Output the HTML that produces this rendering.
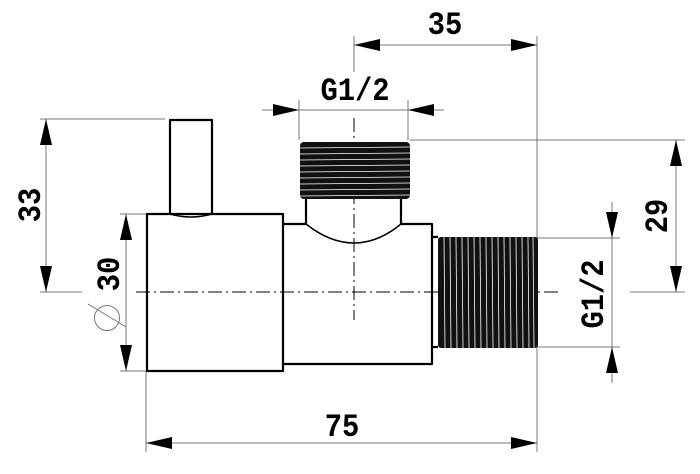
<!DOCTYPE html>
<html><head><style>html,body{margin:0;padding:0;background:#fff}svg{display:block}</style></head>
<body>
<svg width="700" height="474" viewBox="0 0 700 474" xmlns="http://www.w3.org/2000/svg">
<defs>
<clipPath id="ct"><rect x="300" y="142" width="110" height="57" rx="4"/></clipPath>
<clipPath id="cr"><rect x="438" y="237" width="100" height="111" rx="3"/></clipPath>
</defs>
<g stroke="#777" stroke-width="1" fill="none">
<line x1="354" y1="36" x2="354" y2="72"/>
<line x1="537" y1="36" x2="537" y2="452"/>
<line x1="299" y1="100" x2="299" y2="140"/>
<line x1="408" y1="100" x2="408" y2="140"/>
<line x1="40" y1="119" x2="165" y2="119"/>
<line x1="40" y1="292" x2="82" y2="292"/>
<line x1="120" y1="214" x2="146" y2="214"/>
<line x1="120" y1="371" x2="146" y2="371"/>
<line x1="146" y1="371" x2="146" y2="452"/>
<line x1="410" y1="140" x2="685" y2="140"/>
<line x1="630" y1="292" x2="685" y2="292"/>
<line x1="537" y1="238" x2="620" y2="238"/>
<line x1="537" y1="347" x2="620" y2="347"/>
<line x1="354" y1="45" x2="537" y2="45"/>
<line x1="262" y1="110" x2="444" y2="110"/>
<line x1="46" y1="119" x2="46" y2="292"/>
<line x1="126" y1="214" x2="126" y2="371"/>
<line x1="146" y1="443" x2="537" y2="443"/>
<line x1="676" y1="140" x2="676" y2="292"/>
<line x1="612" y1="202" x2="612" y2="383"/>
<circle cx="107" cy="318" r="12.5"/>
<line x1="88" y1="304" x2="126" y2="327"/>
</g>
<g fill="#000">
<polygon points="354,45 380,39 380,51"/><polygon points="537,45 511,39 511,51"/>
<polygon points="299,110 273,104 273,116"/><polygon points="408,110 434,104 434,116"/>
<polygon points="46,119 40,145 52,145"/><polygon points="46,292 40,266 52,266"/>
<polygon points="126,214 120,240 132,240"/><polygon points="126,371 120,345 132,345"/>
<polygon points="146,443 172,437 172,449"/><polygon points="537,443 511,437 511,449"/>
<polygon points="676,140 670,166 682,166"/><polygon points="676,292 670,266 682,266"/>
<polygon points="612,238 606,212 618,212"/><polygon points="612,347 606,373 618,373"/>
</g>
<g stroke="#000" stroke-width="1" stroke-dasharray="14,4,2,4">
<line x1="136" y1="292" x2="562" y2="292"/>
<line x1="354" y1="118" x2="354" y2="320"/>
</g>
<g stroke="#000" stroke-width="2.2" fill="none" stroke-linejoin="round">
<path d="M170,214 L170,120 L212,120 L212,214"/>
<path d="M170,214 Q191,220 212,214" stroke-width="1.5"/>
<rect x="147" y="214" width="136" height="157"/>
<path d="M283,224 L306,224 L306,198 M401,198 L401,224 L432,224 L432,364 L283,364"/>
<path d="M306,224 Q330,243 354,243 Q378,243 401,224" stroke-width="1.5"/>
<path d="M432,237 L438,237 M432,347 L438,347"/>
</g>
<rect x="300" y="142" width="110" height="57" rx="4" fill="#111"/>
<g clip-path="url(#ct)" stroke="#fff" stroke-width="0.8">
<line x1="300" y1="148" x2="410" y2="147"/><line x1="300" y1="154" x2="410" y2="153"/>
<line x1="300" y1="160" x2="410" y2="159"/><line x1="300" y1="166" x2="410" y2="165"/>
<line x1="300" y1="172" x2="410" y2="171"/><line x1="300" y1="178" x2="410" y2="177"/>
<line x1="300" y1="184" x2="410" y2="183"/><line x1="300" y1="190" x2="410" y2="189"/>
<line x1="300" y1="196" x2="410" y2="195"/>
</g>
<rect x="438" y="237" width="100" height="111" rx="3" fill="#111"/>
<g clip-path="url(#cr)" stroke="#fff" stroke-width="0.8">
<line x1="444" y1="237" x2="445" y2="348"/><line x1="450" y1="237" x2="451" y2="348"/>
<line x1="456" y1="237" x2="457" y2="348"/><line x1="462" y1="237" x2="463" y2="348"/>
<line x1="468" y1="237" x2="469" y2="348"/><line x1="474" y1="237" x2="475" y2="348"/>
<line x1="480" y1="237" x2="481" y2="348"/><line x1="486" y1="237" x2="487" y2="348"/>
<line x1="492" y1="237" x2="493" y2="348"/><line x1="498" y1="237" x2="499" y2="348"/>
<line x1="504" y1="237" x2="505" y2="348"/><line x1="510" y1="237" x2="511" y2="348"/>
<line x1="516" y1="237" x2="517" y2="348"/><line x1="522" y1="237" x2="523" y2="348"/>
<line x1="528" y1="237" x2="529" y2="348"/><line x1="533" y1="237" x2="534" y2="348"/>
</g>
<g font-family="Liberation Mono, monospace" font-weight="bold" font-size="32" fill="#000" text-anchor="middle">
<text transform="translate(445,34) scale(0.9,1)">35</text>
<text transform="translate(355,100) scale(0.9,1)">G1/2</text>
<text transform="translate(342,436) scale(0.9,1)">75</text>
<text transform="translate(40,205) rotate(-90) scale(0.9,1)">33</text>
<text transform="translate(119,274) rotate(-90) scale(0.9,1)">30</text>
<text transform="translate(667,216) rotate(-90) scale(0.9,1)">29</text>
<text transform="translate(603,294) rotate(-90) scale(0.9,1)">G1/2</text>
</g>
</svg>
</body></html>
